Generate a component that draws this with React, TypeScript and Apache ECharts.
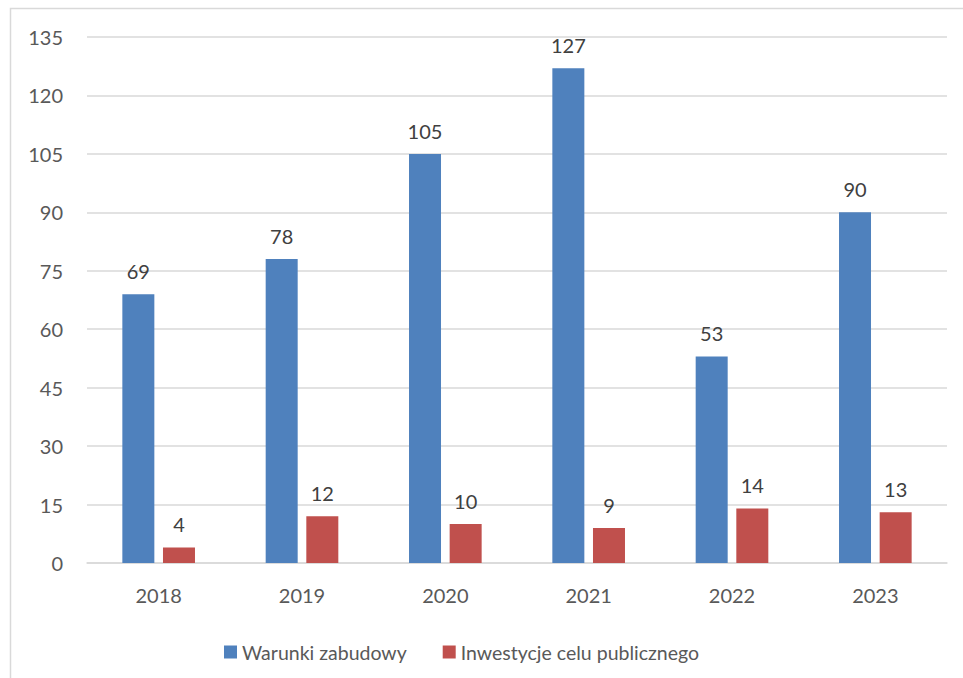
import React, { useEffect, useRef } from "react";
import * as echarts from "echarts";

const categories = ["2018", "2019", "2020", "2021", "2022", "2023"];
const warunki = [69, 78, 105, 127, 53, 90];
const inwestycje = [4, 12, 10, 9, 14, 13];
const seriesNames = ["Warunki zabudowy", "Inwestycje celu publicznego"];

export default function App() {
  const ref = useRef<HTMLDivElement>(null);
  useEffect(() => {
    const chart = echarts.init(ref.current!, null, { renderer: "svg" });
    const font = "Lato, 'Open Sans', sans-serif";
    const labelStyle = {
      show: true,
      position: "top",
      distance: 13,
      color: "#404040",
      fontSize: 20,
      fontFamily: font,
    };
    chart.setOption({
      animation: false,
      backgroundColor: "#ffffff",
      graphic: [
        {
          type: "rect",
          shape: { x: 10.5, y: 8.5, width: 1000, height: 1000 },
          style: { fill: "none", stroke: "#d9d9d9", lineWidth: 1.5 },
          silent: true,
        },
      ],
      grid: { left: 87, right: 16, top: 37, bottom: 115 },
      legend: {
        top: 637,
        left: 219,
        itemWidth: 13,
        itemHeight: 13,
        itemGap: 36,
        icon: "rect",
        textStyle: { color: "#595959", fontSize: 19.5, fontFamily: font },
        data: seriesNames,
      },
      xAxis: {
        type: "category",
        data: categories,
        axisLine: { lineStyle: { color: "#d9d9d9", width: 1.5 } },
        axisTick: { show: false },
        axisLabel: { color: "#595959", fontSize: 20, fontFamily: font, margin: 22 },
      },
      yAxis: {
        type: "value",
        min: 0,
        max: 135,
        interval: 15,
        axisLine: { show: false },
        axisTick: { show: false },
        splitLine: { lineStyle: { color: "#d9d9d9", width: 1.5 } },
        axisLabel: { color: "#595959", fontSize: 20, fontFamily: font, margin: 24 },
      },
      series: [
        {
          name: seriesNames[0],
          type: "bar",
          data: warunki,
          barWidth: 32,
          barGap: "27%",
          itemStyle: { color: "#4f81bd" },
          label: labelStyle,
        },
        {
          name: seriesNames[1],
          type: "bar",
          data: inwestycje,
          barWidth: 32,
          itemStyle: { color: "#c0504d" },
          label: labelStyle,
        },
      ],
    });
    return () => chart.dispose();
  }, []);
  return (
    <div
      ref={ref}
      style={{ position: "fixed", left: 0, top: 0, width: 963, height: 678 }}
    />
  );
}
